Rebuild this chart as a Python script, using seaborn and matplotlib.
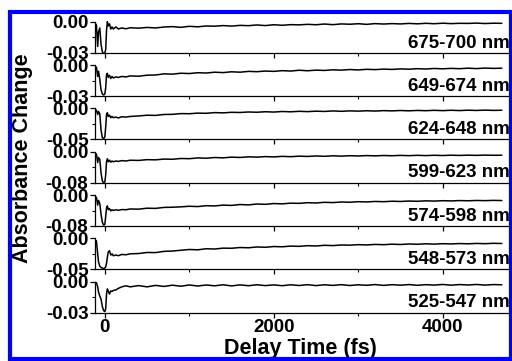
import numpy as np
import pandas as pd
import matplotlib
matplotlib.use("Agg")
import matplotlib.pyplot as plt
import seaborn as sns
from matplotlib.patches import Rectangle
from matplotlib.ticker import FixedLocator

# delay times (fs): dense around time zero, then every 100 fs
t_early = [-120, -100, -85, -75, -60, -45, -30, -15, 0, 10, 20, 30, 40, 55, 70, 85,
           100, 130, 160, 200, 250, 300]
t_tail = list(range(400, 4701, 100))
delay = t_early + t_tail

bands = ["675-700 nm", "649-674 nm", "624-648 nm", "599-623 nm",
         "574-598 nm", "548-573 nm", "525-547 nm"]
bottoms = [-0.03, -0.03, -0.05, -0.08, -0.08, -0.05, -0.03]

# absorbance change in mOD
p1 = [-1, -3, -24, -10, -6, -22, -29, -31, -30, -27, -8, 0, -4, -2, -7, -5, -7, -5, -7, -6, -6.8, -5.8,
      -6.2, -5.5, -6.0, -5.1, -4.7, -5.4, -4.4, -4.9, -4.1, -4.3, -3.7, -4.2, -3.5, -3.8, -3.1, -3.7,
      -2.9, -3.4, -2.8, -3.0, -2.5, -2.9, -2.2, -2.8, -2.1, -2.4, -1.9, -2.5, -1.8, -2.2, -1.8, -2.1,
      -1.6, -2.0, -1.5, -1.9, -1.4, -1.8, -1.5, -1.6, -1.3, -1.7, -1.4, -1.5]
p2 = [-1.5, -2, -11, -6, -14, -24, -28, -29, -28, -22, -9, -8, -12, -10, -13, -11, -12.5, -11.5, -12, -11, -11.5, -10.5,
      -10.8, -9.8, -9.6, -8.5, -8.8, -7.9, -8.2, -7.4, -7.7, -6.9, -7.3, -6.5, -6.9, -6.1, -6.4, -5.8,
      -6.1, -5.4, -5.8, -5.0, -5.5, -4.9, -5.2, -4.6, -4.9, -4.3, -4.7, -4.1, -4.4, -3.9, -4.2, -3.7,
      -4.0, -3.5, -3.8, -3.3, -3.6, -3.2, -3.5, -3.0, -3.4, -2.9, -3.2, -3.0]
p3 = [-1, -3, -10, -5, -9, -35, -47, -49, -46, -30, -10, -7, -13, -11, -15, -13, -15, -14, -15.5, -13.5, -14, -13,
      -12.2, -11.0, -11.3, -9.8, -9.6, -8.4, -8.6, -7.6, -7.9, -6.8, -7.2, -6.3, -6.6, -5.8, -6.2, -5.4,
      -5.9, -5.0, -5.5, -4.7, -5.2, -4.5, -4.9, -4.1, -4.7, -4.0, -4.4, -3.8, -4.3, -3.6, -4.0, -3.4,
      -3.9, -3.3, -3.7, -3.1, -3.6, -3.0, -3.5, -2.9, -3.3, -2.8, -3.2, -3.0]
p4 = [-4, -6, -28, -15, -20, -55, -75, -81, -78, -60, -25, -18, -26, -22, -27, -24, -26, -24, -25, -23, -24, -22,
      -22.5, -20.5, -21.0, -19.0, -19.5, -17.5, -18.0, -16.0, -16.8, -15.0, -15.8, -14.0, -14.8, -13.2, -14.0, -12.6,
      -13.4, -12.0, -12.8, -11.5, -12.2, -11.0, -11.8, -10.6, -11.4, -10.3, -11.0, -10.0, -10.7, -9.8, -10.4, -9.5,
      -10.2, -9.3, -10.0, -9.2, -9.8, -9.0, -9.6, -8.9, -9.4, -8.8, -9.2, -9.0]
p5 = [-4, -6, -26, -14, -22, -50, -70, -78, -76, -55, -33, -28, -38, -35, -41, -38, -40, -38, -39.5, -37.5, -38, -36,
      -36.5, -34.0, -34.5, -32.0, -31.5, -30.5, -29.0, -29.8, -27.5, -28.2, -26.0, -26.8, -24.5, -25.5, -23.2, -24.0,
      -22.0, -22.8, -21.0, -21.5, -19.8, -20.5, -18.8, -19.5, -18.0, -18.6, -17.2, -17.8, -16.6, -17.2, -16.0, -16.6,
      -15.5, -16.1, -15.0, -15.6, -14.6, -15.2, -14.3, -14.8, -14.0, -14.5, -13.8, -14.2]
p6 = [-2.5, -4, -25, -38, -45, -47, -48, -49, -48, -46, -40, -30, -22, -20, -27, -25, -28, -27, -28, -26, -26.5, -25,
      -24.5, -22.8, -23.0, -21.0, -20.5, -19.2, -18.0, -18.5, -16.8, -17.2, -15.8, -16.0, -14.8, -15.2, -13.9, -14.4,
      -13.2, -13.6, -12.5, -12.9, -11.8, -12.3, -11.2, -11.7, -10.7, -11.0, -10.2, -10.6, -9.8, -10.2, -9.4, -9.9,
      -9.1, -9.5, -8.8, -9.3, -8.6, -9.0, -8.4, -8.8, -8.2, -8.6, -8.0, -8.3]
p7 = [-0.7, -1, -5, -10, -14, -17, -24, -28, -29, -26, -12, -7, -9, -12, -9, -9.5, -8.5, -8, -6.5, -5, -4, -5,
      -3.8, -5.0, -3.6, -4.6, -3.4, -4.4, -3.2, -4.2, -3.2, -4.0, -3.0, -4.1, -3.1, -3.9, -3.0, -3.8,
      -3.1, -3.9, -3.0, -3.7, -2.9, -3.8, -3.0, -3.6, -2.9, -3.7, -3.0, -3.5, -2.8, -3.6, -2.9, -3.4,
      -2.8, -3.5, -2.9, -3.3, -2.7, -3.4, -2.8, -3.2, -2.7, -3.3, -2.8, -3.0]
traces = [p1, p2, p3, p4, p5, p6, p7]

rows = []
for band, vals in zip(bands, traces):
    for t, v in zip(delay, vals):
        rows.append({"time": t, "change": v / 1000.0, "band": band})
df = pd.DataFrame(rows)

sns.set_style("ticks")
plt.rcParams['font.family'] = ['Liberation Sans', 'DejaVu Sans']
plt.rcParams['font.weight'] = 'bold'
plt.rcParams['axes.unicode_minus'] = False
for key in ['text.color', 'axes.labelcolor', 'xtick.color', 'ytick.color', 'axes.edgecolor']:
    plt.rcParams[key] = 'black'

fig = plt.figure(figsize=(5.12, 3.61), dpi=100)
gs = fig.add_gridspec(7, 1, left=0.185, right=0.995, top=0.974, bottom=0.134, hspace=0)

for i, (band, b) in enumerate(zip(bands, bottoms)):
    ax = fig.add_subplot(gs[i])
    ax.patch.set_alpha(0)
    sns.lineplot(data=df[df.band == band], x="time", y="change", ax=ax,
                 color="black", linewidth=1.1, estimator=None)
    ax.set_xlim(-120, 4790)
    ax.set_ylim(b, -0.4 * b)
    ax.set_yticks([b, 0.0])
    ax.set_yticklabels([f"{b:.2f}", "0.00"])
    ax.yaxis.set_minor_locator(FixedLocator([b / 2]))
    ax.xaxis.set_major_locator(FixedLocator([0, 2000, 4000]))
    ax.xaxis.set_minor_locator(FixedLocator([1000, 3000]))
    for s in ["top", "right"]:
        ax.spines[s].set_visible(False)
    ax.spines["left"].set_bounds(b, 0.0)
    ax.spines["left"].set_linewidth(0.9)
    ax.spines["bottom"].set_linewidth(0.9)
    ax.tick_params(axis="both", which="major", length=3.5, width=0.9, direction="out",
                   labelsize=13.5, pad=1, color="black", labelcolor="black")
    ax.tick_params(axis="both", which="minor", length=2, width=0.8, direction="out", color="black")
    ax.set_xlabel("")
    ax.set_ylabel("")
    if i < 6:
        ax.tick_params(axis="x", labelbottom=False)
    ax.text(1.0, 0.12, band, transform=ax.transAxes, ha="right", va="baseline",
            fontsize=13.5, fontweight="bold", color="black")

fig.text(0.586, 0.035, "Delay Time (fs)", ha="center", va="center", fontsize=15.5,
         fontweight="bold", color="black")
fig.text(0.043, 0.562, "Absorbance Change", ha="center", va="center", rotation=90,
         fontsize=15.5, fontweight="bold", color="black")

fig.patches.append(Rectangle((10 / 512, 2 / 361), 501 / 512, 347 / 361, transform=fig.transFigure,
                             fill=False, edgecolor=(0, 0, 1), linewidth=3, zorder=20))

fig.savefig("out.png", dpi=100)
